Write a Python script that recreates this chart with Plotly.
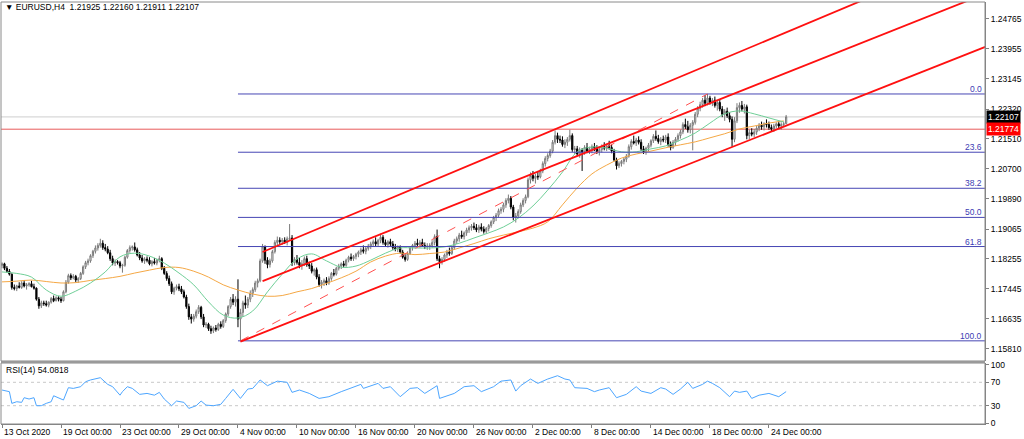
import plotly.graph_objects as go

# ---------------- data ----------------
# H4 bars, one line = one trading day (6 bars)
opens = [
 1.1808,1.1812,1.1800,1.1792,1.1784,1.1748,
 1.1745,1.1752,1.1748,1.1760,1.1752,1.1755,
 1.1758,1.1750,1.1746,1.1716,1.1698,1.1706,
 1.1704,1.1700,1.1708,1.1718,1.1712,1.1720,
 1.1716,1.1712,1.1736,1.1762,1.1780,1.1774,
 1.1778,1.1768,1.1772,1.1786,1.1804,1.1815,
 1.1820,1.1834,1.1846,1.1855,1.1862,1.1868,
 1.1856,1.1852,1.1842,1.1826,1.1814,1.1818,
 1.1815,1.1806,1.1808,1.1830,1.1848,1.1856,
 1.1858,1.1850,1.1836,1.1828,1.1820,1.1825,
 1.1822,1.1812,1.1818,1.1814,1.1822,1.1826,
 1.1800,1.1786,1.1772,1.1758,1.1736,1.1746,
 1.1750,1.1744,1.1736,1.1722,1.1696,1.1668,
 1.1662,1.1670,1.1682,1.1694,1.1668,1.1646,
 1.1648,1.1636,1.1630,1.1638,1.1634,1.1648,
 1.1642,1.1658,1.1676,1.1696,1.1716,1.1708,
 1.1716,1.1662,1.1680,1.1706,1.1700,1.1716,
 1.1732,1.1742,1.1760,1.1766,1.1820,1.1858,
 1.1822,1.1810,1.1820,1.1845,1.1870,1.1876,
 1.1872,1.1876,1.1870,1.1880,1.1882,1.1815,
 1.1824,1.1816,1.1808,1.1812,1.1826,1.1810,
 1.1806,1.1792,1.1796,1.1776,1.1756,1.1762,
 1.1766,1.1760,1.1772,1.1786,1.1784,1.1800,
 1.1806,1.1812,1.1808,1.1822,1.1830,1.1826,
 1.1832,1.1838,1.1844,1.1850,1.1846,1.1854,
 1.1860,1.1866,1.1872,1.1866,1.1876,1.1884,
 1.1870,1.1864,1.1872,1.1866,1.1856,1.1852,
 1.1858,1.1844,1.1830,1.1824,1.1840,1.1856,
 1.1862,1.1868,1.1864,1.1870,1.1862,1.1858,
 1.1860,1.1862,1.1870,1.1886,1.1826,1.1818,
 1.1824,1.1836,1.1844,1.1840,1.1856,1.1874,
 1.1880,1.1890,1.1886,1.1896,1.1904,1.1910,
 1.1914,1.1910,1.1904,1.1912,1.1906,1.1900,
 1.1908,1.1916,1.1926,1.1938,1.1944,1.1956,
 1.1960,1.1972,1.1984,1.1990,1.1966,1.1938,
 1.1942,1.1954,1.1972,1.1984,1.1994,1.2040,
 1.2052,1.2044,1.2050,1.2048,1.2064,1.2084,
 1.2098,1.2106,1.2118,1.2142,1.2160,1.2150,
 1.2148,1.2136,1.2142,1.2150,1.2160,1.2122,
 1.2124,1.2110,1.2120,1.2116,1.2128,1.2118,
 1.2124,1.2130,1.2126,1.2116,1.2122,1.2130,
 1.2126,1.2132,1.2128,1.2118,1.2094,1.2078,
 1.2084,1.2090,1.2096,1.2104,1.2130,1.2144,
 1.2140,1.2148,1.2142,1.2124,1.2116,1.2126,
 1.2134,1.2146,1.2158,1.2152,1.2144,1.2150,
 1.2148,1.2156,1.2136,1.2128,1.2142,1.2150,
 1.2160,1.2170,1.2190,1.2184,1.2176,1.2188,
 1.2196,1.2218,1.2234,1.2244,1.2256,1.2248,
 1.2262,1.2250,1.2256,1.2242,1.2250,1.2232,
 1.2218,1.2226,1.2214,1.2204,1.2150,1.2200,
 1.2236,1.2242,1.2232,1.2238,1.2160,1.2168,
 1.2164,1.2170,1.2180,1.2188,1.2184,1.2192,
 1.2190,1.2182,1.2178,1.2186,1.2192,1.2186,
 1.2190,1.21925,
]
highs = [
 1.1816,1.1815,1.1806,1.1798,1.1786,1.1756,
 1.1755,1.1762,1.1765,1.1768,1.1760,1.1762,
 1.1766,1.1758,1.1748,1.1722,1.1712,1.1712,
 1.1712,1.1710,1.1722,1.1726,1.1724,1.1724,
 1.1722,1.1740,1.1768,1.1785,1.1786,1.1784,
 1.1782,1.1776,1.1790,1.1808,1.1820,1.1826,
 1.1838,1.1850,1.1862,1.1868,1.1880,1.1876,
 1.1866,1.1860,1.1850,1.1834,1.1824,1.1822,
 1.1820,1.1812,1.1834,1.1852,1.1862,1.1862,
 1.1870,1.1856,1.1844,1.1836,1.1830,1.1832,
 1.1830,1.1822,1.1828,1.1826,1.1834,1.1830,
 1.1806,1.1792,1.1780,1.1764,1.1750,1.1756,
 1.1758,1.1752,1.1742,1.1728,1.1704,1.1676,
 1.1676,1.1688,1.1700,1.1698,1.1676,1.1654,
 1.1652,1.1644,1.1642,1.1646,1.1652,1.1656,
 1.1662,1.1680,1.1700,1.1722,1.1730,1.1724,
 1.1770,1.1690,1.1712,1.1726,1.1722,1.1740,
 1.1748,1.1766,1.1772,1.1826,1.1866,1.1862,
 1.1830,1.1826,1.1850,1.1876,1.1886,1.1884,
 1.1882,1.1884,1.1886,1.1920,1.1890,1.1830,
 1.1836,1.1828,1.1822,1.1832,1.1834,1.1818,
 1.1814,1.1800,1.1802,1.1784,1.1768,1.1772,
 1.1776,1.1778,1.1790,1.1798,1.1804,1.1812,
 1.1816,1.1820,1.1826,1.1834,1.1840,1.1836,
 1.1842,1.1848,1.1856,1.1862,1.1858,1.1866,
 1.1872,1.1878,1.1884,1.1880,1.1894,1.1890,
 1.1878,1.1876,1.1880,1.1874,1.1866,1.1862,
 1.1862,1.1850,1.1838,1.1846,1.1860,1.1866,
 1.1874,1.1880,1.1876,1.1880,1.1870,1.1868,
 1.1868,1.1876,1.1892,1.1905,1.1834,1.1830,
 1.1840,1.1850,1.1856,1.1862,1.1880,1.1886,
 1.1896,1.1902,1.1900,1.1910,1.1916,1.1920,
 1.1924,1.1920,1.1918,1.1922,1.1914,1.1912,
 1.1920,1.1930,1.1942,1.1950,1.1962,1.1966,
 1.1978,1.1990,1.2000,1.1996,1.1972,1.1950,
 1.1960,1.1978,1.1990,1.2000,1.2046,1.2060,
 1.2064,1.2056,1.2062,1.2070,1.2090,1.2104,
 1.2112,1.2124,1.2148,1.2174,1.2168,1.2160,
 1.2158,1.2150,1.2156,1.2176,1.2166,1.2132,
 1.2132,1.2128,1.2126,1.2134,1.2140,1.2130,
 1.2136,1.2140,1.2134,1.2128,1.2136,1.2142,
 1.2138,1.2146,1.2136,1.2124,1.2100,1.2090,
 1.2094,1.2102,1.2110,1.2136,1.2150,1.2160,
 1.2154,1.2158,1.2150,1.2132,1.2130,1.2140,
 1.2150,1.2164,1.2174,1.2162,1.2156,1.2160,
 1.2162,1.2166,1.2144,1.2148,1.2156,1.2166,
 1.2176,1.2196,1.2206,1.2200,1.2194,1.2202,
 1.2224,1.2240,1.2252,1.2262,1.2270,1.2273,
 1.2268,1.2262,1.2266,1.2256,1.2258,1.2240,
 1.2232,1.2236,1.2224,1.2212,1.2210,1.2248,
 1.2250,1.2254,1.2246,1.2244,1.2176,1.2180,
 1.2178,1.2186,1.2194,1.2198,1.2196,1.2204,
 1.2198,1.2190,1.2192,1.2196,1.2200,1.2196,
 1.2198,1.22160,
]
lows = [
 1.1800,1.1795,1.1788,1.1780,1.1742,1.1740,
 1.1738,1.1745,1.1744,1.1748,1.1742,1.1750,
 1.1748,1.1742,1.1712,1.1690,1.1692,1.1698,
 1.1696,1.1694,1.1704,1.1708,1.1710,1.1710,
 1.1706,1.1710,1.1732,1.1758,1.1768,1.1770,
 1.1762,1.1760,1.1768,1.1782,1.1798,1.1808,
 1.1815,1.1828,1.1840,1.1848,1.1856,1.1850,
 1.1846,1.1838,1.1820,1.1808,1.1806,1.1810,
 1.1800,1.1788,1.1804,1.1826,1.1842,1.1848,
 1.1845,1.1832,1.1822,1.1815,1.1812,1.1816,
 1.1808,1.1805,1.1810,1.1808,1.1816,1.1795,
 1.1782,1.1766,1.1752,1.1730,1.1728,1.1740,
 1.1738,1.1730,1.1718,1.1690,1.1660,1.1650,
 1.1655,1.1664,1.1676,1.1662,1.1640,1.1638,
 1.1630,1.1622,1.1624,1.1628,1.1630,1.1636,
 1.1638,1.1652,1.1670,1.1690,1.1700,1.1696,
 1.1640,1.1603,1.1668,1.1690,1.1692,1.1708,
 1.1722,1.1736,1.1748,1.1762,1.1815,1.1812,
 1.1800,1.1802,1.1815,1.1840,1.1862,1.1866,
 1.1864,1.1866,1.1862,1.1874,1.1806,1.1808,
 1.1810,1.1800,1.1796,1.1806,1.1804,1.1798,
 1.1786,1.1780,1.1770,1.1750,1.1745,1.1752,
 1.1754,1.1755,1.1766,1.1778,1.1780,1.1794,
 1.1798,1.1802,1.1804,1.1816,1.1820,1.1820,
 1.1824,1.1830,1.1836,1.1840,1.1838,1.1848,
 1.1852,1.1858,1.1860,1.1858,1.1868,1.1864,
 1.1858,1.1856,1.1860,1.1850,1.1846,1.1844,
 1.1840,1.1826,1.1818,1.1820,1.1836,1.1848,
 1.1854,1.1860,1.1856,1.1858,1.1852,1.1850,
 1.1850,1.1856,1.1862,1.1820,1.1800,1.1810,
 1.1818,1.1828,1.1834,1.1836,1.1850,1.1866,
 1.1872,1.1880,1.1878,1.1888,1.1896,1.1902,
 1.1904,1.1898,1.1896,1.1900,1.1894,1.1894,
 1.1900,1.1910,1.1920,1.1928,1.1938,1.1948,
 1.1952,1.1964,1.1976,1.1960,1.1930,1.1924,
 1.1936,1.1948,1.1966,1.1976,1.1990,1.2030,
 1.2036,1.2030,1.2040,1.2044,1.2058,1.2076,
 1.2090,1.2100,1.2112,1.2136,1.2140,1.2140,
 1.2130,1.2126,1.2132,1.2144,1.2116,1.2110,
 1.2104,1.2100,1.2064,1.2108,1.2112,1.2110,
 1.2112,1.2118,1.2110,1.2106,1.2114,1.2120,
 1.2118,1.2122,1.2112,1.2090,1.2068,1.2072,
 1.2076,1.2082,1.2088,1.2100,1.2122,1.2136,
 1.2132,1.2136,1.2118,1.2110,1.2108,1.2118,
 1.2128,1.2140,1.2146,1.2138,1.2134,1.2142,
 1.2140,1.2130,1.2120,1.2124,1.2132,1.2144,
 1.2152,1.2164,1.2178,1.2168,1.2166,1.2120,
 1.2190,1.2210,1.2226,1.2236,1.2240,1.2242,
 1.2244,1.2240,1.2236,1.2228,1.2226,1.2210,
 1.2200,1.2208,1.2196,1.2130,1.2142,1.2194,
 1.2222,1.2226,1.2220,1.2150,1.2150,1.2158,
 1.2156,1.2162,1.2172,1.2176,1.2174,1.2182,
 1.2176,1.2172,1.2170,1.2180,1.2180,1.2176,
 1.2184,1.21911,
]
closes = [
 1.1812,1.1800,1.1792,1.1784,1.1748,1.1745,
 1.1752,1.1748,1.1760,1.1752,1.1755,1.1758,
 1.1750,1.1746,1.1716,1.1698,1.1706,1.1704,
 1.1700,1.1708,1.1718,1.1712,1.1720,1.1716,
 1.1712,1.1736,1.1762,1.1780,1.1774,1.1778,
 1.1768,1.1772,1.1786,1.1804,1.1815,1.1820,
 1.1834,1.1846,1.1855,1.1862,1.1868,1.1856,
 1.1852,1.1842,1.1826,1.1814,1.1818,1.1815,
 1.1806,1.1808,1.1830,1.1848,1.1856,1.1858,
 1.1850,1.1836,1.1828,1.1820,1.1825,1.1822,
 1.1812,1.1818,1.1814,1.1822,1.1826,1.1800,
 1.1786,1.1772,1.1758,1.1736,1.1746,1.1750,
 1.1744,1.1736,1.1722,1.1696,1.1668,1.1662,
 1.1670,1.1682,1.1694,1.1668,1.1646,1.1648,
 1.1636,1.1630,1.1638,1.1634,1.1648,1.1642,
 1.1658,1.1676,1.1696,1.1716,1.1708,1.1716,
 1.1662,1.1680,1.1706,1.1700,1.1716,1.1732,
 1.1742,1.1760,1.1766,1.1820,1.1858,1.1822,
 1.1810,1.1820,1.1845,1.1870,1.1876,1.1872,
 1.1876,1.1870,1.1880,1.1882,1.1815,1.1824,
 1.1816,1.1808,1.1812,1.1826,1.1810,1.1806,
 1.1792,1.1796,1.1776,1.1756,1.1762,1.1766,
 1.1760,1.1772,1.1786,1.1784,1.1800,1.1806,
 1.1812,1.1808,1.1822,1.1830,1.1826,1.1832,
 1.1838,1.1844,1.1850,1.1846,1.1854,1.1860,
 1.1866,1.1872,1.1866,1.1876,1.1884,1.1870,
 1.1864,1.1872,1.1866,1.1856,1.1852,1.1858,
 1.1844,1.1830,1.1824,1.1840,1.1856,1.1862,
 1.1868,1.1864,1.1870,1.1862,1.1858,1.1860,
 1.1862,1.1870,1.1886,1.1826,1.1818,1.1824,
 1.1836,1.1844,1.1840,1.1856,1.1874,1.1880,
 1.1890,1.1886,1.1896,1.1904,1.1910,1.1914,
 1.1910,1.1904,1.1912,1.1906,1.1900,1.1908,
 1.1916,1.1926,1.1938,1.1944,1.1956,1.1960,
 1.1972,1.1984,1.1990,1.1966,1.1938,1.1942,
 1.1954,1.1972,1.1984,1.1994,1.2040,1.2052,
 1.2044,1.2050,1.2048,1.2064,1.2084,1.2098,
 1.2106,1.2118,1.2142,1.2160,1.2150,1.2148,
 1.2136,1.2142,1.2150,1.2160,1.2122,1.2124,
 1.2110,1.2120,1.2116,1.2128,1.2118,1.2124,
 1.2130,1.2126,1.2116,1.2122,1.2130,1.2126,
 1.2132,1.2128,1.2118,1.2094,1.2078,1.2084,
 1.2090,1.2096,1.2104,1.2130,1.2144,1.2140,
 1.2148,1.2142,1.2124,1.2116,1.2126,1.2134,
 1.2146,1.2158,1.2152,1.2144,1.2150,1.2148,
 1.2156,1.2136,1.2128,1.2142,1.2150,1.2160,
 1.2170,1.2190,1.2184,1.2176,1.2188,1.2196,
 1.2218,1.2234,1.2244,1.2256,1.2248,1.2262,
 1.2250,1.2256,1.2242,1.2250,1.2232,1.2218,
 1.2226,1.2214,1.2204,1.2150,1.2200,1.2236,
 1.2242,1.2232,1.2238,1.2160,1.2168,1.2164,
 1.2170,1.2180,1.2188,1.2184,1.2192,1.2190,
 1.2182,1.2178,1.2186,1.2192,1.2186,1.2190,
 1.2192,1.22107,
]

# moving averages, one reading every 6 bars
ma_idx = list(range(0, 319, 6))
ma_fast = [1.1790,1.1786,1.1776,1.1741,1.1724,1.1738,1.1760,1.1790,1.1831,1.1841,
           1.1833,1.1814,1.1787,1.1755,1.1709,1.1673,1.1665,1.1684,1.1736,1.1784,
           1.1825,1.1839,1.1820,1.1803,1.1806,1.1822,1.1841,1.1855,1.1855,1.1855,
           1.1858,1.1868,1.1882,1.1896,1.1912,1.1936,1.1969,1.2012,1.2061,1.2116,
           1.2129,1.2126,1.2116,1.2116,1.2124,1.2132,1.2148,1.2167,1.2194,1.2219,
           1.2227,1.2219,1.2208,1.2197]
ma_slow = [1.1763,1.1765,1.1768,1.1764,1.1760,1.1761,1.1767,1.1772,1.1778,1.1787,
           1.1795,1.1802,1.1802,1.1792,1.1776,1.1755,1.1741,1.1730,1.1724,1.1726,
           1.1736,1.1745,1.1759,1.1774,1.1792,1.1817,1.1833,1.1841,1.1837,1.1840,
           1.1844,1.1855,1.1867,1.1880,1.1890,1.1899,1.1909,1.1926,1.1972,1.2018,
           1.2056,1.2080,1.2099,1.2110,1.2118,1.2127,1.2135,1.2143,1.2154,1.2165,
           1.2178,1.2186,1.2194,1.2200]

# RSI(14) readings
rsi_idx = [0,3,4,6,8,9,11,13,14,16,18,20,21,23,25,27,29,32,34,36,
           40,43,45,48,49,51,53,56,59,62,64,66,69,71,74,76,79,81,83,86,
           89,91,94,97,100,102,105,108,112,116,118,121,125,129,133,138,142,146,147,153,
           155,158,162,166,169,172,177,178,184,188,192,195,200,203,207,209,211,215,218,222,
           226,229,231,233,238,241,243,247,250,254,258,260,264,268,270,273,276,279,281,285,
           287,289,292,296,298,300,303,305,308,312,316,319]
rsi_val = [56.8,54,34,36.8,35.7,43.7,41.4,43.7,30,30,34,36.8,47,43.7,39.7,60.8,59.6,62.5,71,74,
           77.9,66.5,62.5,48,54,62.5,59.6,49.4,51,48,52.8,41.4,30,38,35.7,25.4,30,38,31,30,
           32.3,42.5,58,42.5,58.5,59.6,74,64.2,72,70,52.8,56.8,51,42.5,45.4,54,59.6,66.5,59.6,68.2,
           59.6,62.5,45.4,59.6,60.8,51,64.2,42.5,51,62.5,64.2,54,62.5,72,74,55,64.2,75.6,68.2,75.6,
           81.3,75.6,74,60.8,59.6,54,56.8,60.8,43.7,49.4,62.5,55,51,60.8,58.5,49.4,58.5,70,59.6,66.5,
           72,68.2,60.8,45.4,55,52.8,55,42.5,48,51,45.4,54.0818]

time_tick_idx = [0,24,48,72,96,120,144,168,192,216,240,264,288,312]
time_tick_text = ["13 Oct 2020","19 Oct 00:00","23 Oct 00:00","29 Oct 00:00","4 Nov 00:00",
                  "10 Nov 00:00","16 Nov 00:00","20 Nov 00:00","26 Nov 00:00","2 Dec 00:00",
                  "8 Dec 00:00","14 Dec 00:00","18 Dec 00:00","24 Dec 00:00"]
price_ticks = [1.24765,1.23955,1.23145,1.22320,1.21510,1.20700,
               1.19890,1.19065,1.18255,1.17445,1.16635,1.15810]
rsi_ticks = [0,30,70,100]

# objects on the chart
fib_low_bar, fib_low = 97, 1.16030
fib_high_bar, fib_high = 287, 1.22730
fib_start_bar = 96
fib_levels = [0.0, 23.6, 38.2, 50.0, 61.8, 100.0]
channel_lower = [(97, 1.1601), (400, 1.2401)]
channel_mid = [(106, 1.1765), (400, 1.2545)]
channel_upper = [(106, 1.1844), (400, 1.2667)]
bid_price = 1.22107
alert_price = 1.21774

# ---------------- figure ----------------
FONT = "Liberation Sans, Arial, sans-serif"
n = len(closes)
bars = list(range(n))
XR = [-0.41, 399.9]

fig = go.Figure()
fig.add_trace(go.Candlestick(
    x=bars, open=opens, high=highs, low=lows, close=closes,
    increasing=dict(line=dict(color="#7a7a7a", width=1), fillcolor="#ffffff"),
    decreasing=dict(line=dict(color="#000000", width=1), fillcolor="#000000"),
    whiskerwidth=0, xaxis="x", yaxis="y", hoverinfo="skip", showlegend=False))
fig.add_trace(go.Scatter(x=ma_idx, y=ma_slow, mode="lines", line_shape="spline",
                         line=dict(color="#f5a845", width=1), xaxis="x", yaxis="y", showlegend=False))
fig.add_trace(go.Scatter(x=ma_idx, y=ma_fast, mode="lines", line_shape="spline",
                         line=dict(color="#6fcf97", width=1), xaxis="x", yaxis="y", showlegend=False))
fig.add_trace(go.Scatter(x=rsi_idx, y=rsi_val, mode="lines",
                         line=dict(color="#4da6ff", width=1), xaxis="x2", yaxis="y2", showlegend=False))

shapes = []
# horizontal bid and alert lines
shapes.append(dict(type="line", xref="x", yref="y", x0=XR[0], x1=XR[1], y0=bid_price, y1=bid_price,
                   line=dict(color="#cfcfcf", width=1), layer="below"))
shapes.append(dict(type="line", xref="x", yref="y", x0=XR[0], x1=XR[1], y0=alert_price, y1=alert_price,
                   line=dict(color="#e85a5a", width=1), layer="below"))
# fibonacci
annotations = []
for lv in fib_levels:
    p = fib_high - lv / 100.0 * (fib_high - fib_low)
    shapes.append(dict(type="line", xref="x", yref="y", x0=fib_start_bar, x1=XR[1], y0=p, y1=p,
                       line=dict(color="#4646b4", width=1), layer="above"))
    annotations.append(dict(xref="paper", yref="y", x=1, y=p, xanchor="right", yanchor="bottom",
                            xshift=-1, yshift=-2, text=f"{lv:.1f}", showarrow=False,
                            font=dict(family=FONT, size=8.5, color="#3c3cb4")))
shapes.append(dict(type="line", xref="x", yref="y", x0=fib_low_bar, y0=fib_low, x1=fib_high_bar, y1=fib_high,
                   line=dict(color="#ff5050", width=1, dash="dash"), layer="above"))
for ch in (channel_lower, channel_mid, channel_upper):
    shapes.append(dict(type="line", xref="x", yref="y", x0=ch[0][0], y0=ch[0][1], x1=ch[1][0], y1=ch[1][1],
                       line=dict(color="#ff1010", width=1.8), layer="above"))
# RSI levels
for lvl in (30, 70):
    shapes.append(dict(type="line", xref="paper", yref="y2", x0=0, x1=1, y0=lvl, y1=lvl,
                       line=dict(color="#c8c8c8", width=1, dash="dot"), layer="below"))
# panel frames
shapes.append(dict(type="rect", xref="paper", yref="paper", x0=0, x1=1, y0=0.1493, y1=1,
                   line=dict(color="#8a8a8a", width=1), layer="above"))
shapes.append(dict(type="rect", xref="paper", yref="paper", x0=0, x1=1, y0=0, y1=0.1445,
                   line=dict(color="#8a8a8a", width=1), layer="above"))
shapes.append(dict(type="line", xref="paper", yref="paper", x0=0, x1=1, y0=0.1470, y1=0.1470,
                   line=dict(color="#9a9a9a", width=2), layer="above"))

# texts
annotations.append(dict(xref="paper", yref="paper", x=0.002, y=0.988, xanchor="left", yanchor="middle",
                        text="\u25bc EURUSD,H4  1.21925 1.22160 1.21911 1.22107", showarrow=False,
                        font=dict(family=FONT, size=8.5, color="#000000")))
annotations.append(dict(xref="paper", yref="paper", x=0.003, y=0.129, xanchor="left", yanchor="middle",
                        text="RSI(14) 54.0818", showarrow=False,
                        font=dict(family=FONT, size=8.5, color="#000000")))
for ti, tt in zip(time_tick_idx, time_tick_text):
    annotations.append(dict(xref="x2", yref="paper", x=ti, y=0, xanchor="left", yanchor="top",
                            xshift=0, yshift=-1, text=tt, showarrow=False,
                            font=dict(family=FONT, size=8.5, color="#000000")))
annotations.append(dict(xref="paper", yref="y", x=1, y=bid_price, xanchor="left", yanchor="middle",
                        xshift=1, text="1.22107", showarrow=False, bgcolor="#000000", borderpad=1,
                        font=dict(family=FONT, size=8.5, color="#ffffff")))
annotations.append(dict(xref="paper", yref="y", x=1, y=alert_price, xanchor="left", yanchor="middle",
                        xshift=1, text="1.21774", showarrow=False, bgcolor="#ff0000", borderpad=1,
                        font=dict(family=FONT, size=8.5, color="#ffffff")))

fig.update_layout(
    width=1024, height=439,
    margin=dict(l=1, r=39, t=2, b=15, autoexpand=False),
    paper_bgcolor="#ffffff", plot_bgcolor="#ffffff",
    showlegend=False, hovermode=False,
    shapes=shapes, annotations=annotations,
    xaxis=dict(domain=[0, 1], range=XR, anchor="y", showticklabels=False, showgrid=False,
               zeroline=False, ticks="", rangeslider=dict(visible=False), fixedrange=True),
    yaxis=dict(domain=[0.1493, 1], range=[1.15483, 1.25226], side="right", anchor="x",
               tickvals=price_ticks, ticktext=[f"{v:.5f}" for v in price_ticks], automargin=False,
               ticks="outside", ticklen=3, tickcolor="#808080", showline=True, linecolor="#808080",
               showgrid=False, zeroline=False, tickfont=dict(family=FONT, size=8.5, color="#000000")),
    xaxis2=dict(domain=[0, 1], range=XR, anchor="y2", tickvals=time_tick_idx, showticklabels=False,
                ticks="outside", ticklen=3, tickcolor="#808080", showgrid=False, zeroline=False,
                showline=True, linecolor="#808080"),
    yaxis2=dict(domain=[0, 0.1445], range=[-1.3, 103], side="right", anchor="x2", automargin=False,
                tickvals=rsi_ticks, ticktext=[str(v) for v in rsi_ticks],
                ticks="outside", ticklen=3, tickcolor="#808080", showline=True, linecolor="#808080",
                showgrid=False, zeroline=False, tickfont=dict(family=FONT, size=8.5, color="#000000")),
)

fig.write_html("out.html", config={"displayModeBar": False, "staticPlot": True},
               post_script="document.body.style.margin='0';document.body.style.overflow='hidden';")
